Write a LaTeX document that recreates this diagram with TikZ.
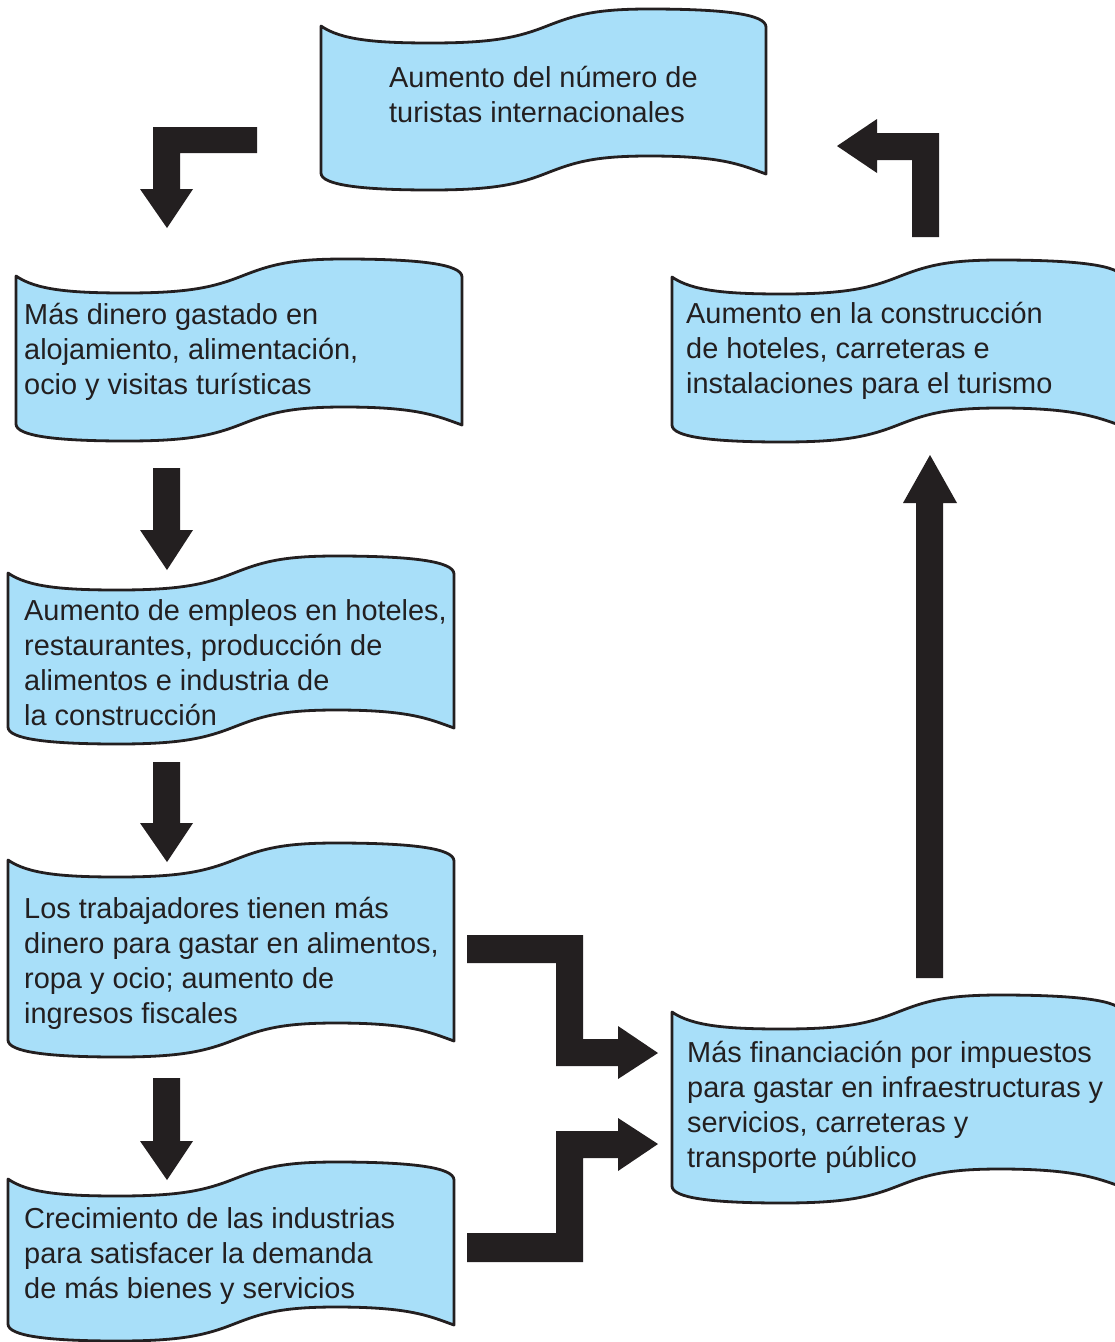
\documentclass[tikz,border=0pt]{standalone}
\usepackage{fontspec}
\setmainfont{Liberation Sans}
\definecolor{bannerblue}{RGB}{168,223,249}
\definecolor{ink}{RGB}{35,31,32}
\tikzset{
  banner/.style={fill=bannerblue, draw=ink, line width=2.8pt, line join=round},
  blockarrow/.style={fill=ink, draw=none},
  boxtext/.style={anchor=base west, inner sep=0pt, text=ink, font=\fontsize{28.9}{35}\selectfont},
}
% #1 x, #2 y (top-left corner), #3 width, #4 height of left edge
\newcommand{\wavebanner}[4]{%
  \begin{scope}[shift={(#1,#2)}]
    \filldraw[banner] (0,0) .. controls (20,14) and (55,17) .. (110,17)
      .. controls (174,17) and (198,11) .. (226,0)
      .. controls (254,-11) and (274,-17) .. (328,-17)
      .. controls (402,-17) and (#3,-12) .. (#3,1)
      -- (#3,#4+1)
      .. controls (#3-25,#4-8) and (402,#4-17) .. (328,#4-17)
      .. controls (274,#4-17) and (254,#4-11) .. (226,#4)
      .. controls (198,#4+11) and (174,#4+17) .. (110,#4+17)
      .. controls (40,#4+17) and (0,#4+12) .. (0,#4) -- cycle;
  \end{scope}}
\newcommand{\txtlines}[1]{\begin{tabular}[t]{@{}l@{}}#1\end{tabular}}
\begin{document}
\begin{tikzpicture}[x=1pt,y=-1pt]
  \useasboundingbox (0,0) rectangle (1115,1342);
  \clip (0,0) rectangle (1115,1342);
  \fill[white] (0,0) rectangle (1115,1342);

  % banners
  \wavebanner{321}{26}{445}{147}
  \wavebanner{16}{276}{446}{148}
  \wavebanner{8}{573}{446}{154}
  \wavebanner{8}{860}{446}{180}
  \wavebanner{8}{1179}{446}{145}
  \wavebanner{672}{1012}{450}{174}
  \wavebanner{672}{277}{450}{148}

  % texts
  \node[boxtext] (t1) at (389,87) {\txtlines{Aumento del número de\\turistas internacionales}};
  \node[boxtext] (t2) at (24,324) {\txtlines{Más dinero gastado en\\alojamiento, alimentación,\\ocio y visitas turísticas}};
  \node[boxtext] (t3) at (24,620) {\txtlines{Aumento de empleos en hoteles,\\restaurantes, producción de\\alimentos e industria de\\la construcción}};
  \node[boxtext] (t4) at (24,918) {\txtlines{Los trabajadores tienen más\\dinero para gastar en alimentos,\\ropa y ocio; aumento de\\ingresos fiscales}};
  \node[boxtext] (t5) at (24,1228) {\txtlines{Crecimiento de las industrias\\para satisfacer la demanda\\de más bienes y servicios}};
  \node[boxtext] (t6) at (687,1062) {\txtlines{Más financiación por impuestos\\para gastar en infraestructuras y\\servicios, carreteras y\\transporte público}};
  \node[boxtext] (t7) at (686,323) {\txtlines{Aumento en la construcción\\de hoteles, carreteras e\\instalaciones para el turismo}};

  % block arrows
  \fill[blockarrow] (257,127) -- (153,127) -- (153,189) -- (140,189) -- (167,228) -- (193,189) -- (180,189) -- (180,153) -- (257,153) -- cycle;
  \fill[blockarrow] (153,468) -- (180,468) -- (180,530) -- (193,530) -- (167,570) -- (140,530) -- (153,530) -- cycle;
  \fill[blockarrow] (153,762) -- (180,762) -- (180,823) -- (193,823) -- (167,862) -- (140,823) -- (153,823) -- cycle;
  \fill[blockarrow] (153,1078) -- (180,1078) -- (180,1141) -- (193,1141) -- (167,1180) -- (140,1141) -- (153,1141) -- cycle;
  \fill[blockarrow] (467,935) -- (583,935) -- (583,1039) -- (618,1039) -- (618,1026) -- (658,1053) -- (618,1079) -- (618,1066) -- (556,1066) -- (556,963) -- (467,963) -- cycle;
  \fill[blockarrow] (467,1262) -- (583,1262) -- (583,1158) -- (618,1158) -- (618,1171) -- (658,1144) -- (618,1118) -- (618,1131) -- (556,1131) -- (556,1233) -- (467,1233) -- cycle;
  \fill[blockarrow] (916,978) -- (943,978) -- (943,503) -- (957,503) -- (930,455) -- (903,503) -- (916,503) -- cycle;
  \fill[blockarrow] (912,237) -- (939,237) -- (939,133) -- (877,133) -- (877,119) -- (837,146) -- (877,173) -- (877,160) -- (912,160) -- cycle;
\end{tikzpicture}
\end{document}
